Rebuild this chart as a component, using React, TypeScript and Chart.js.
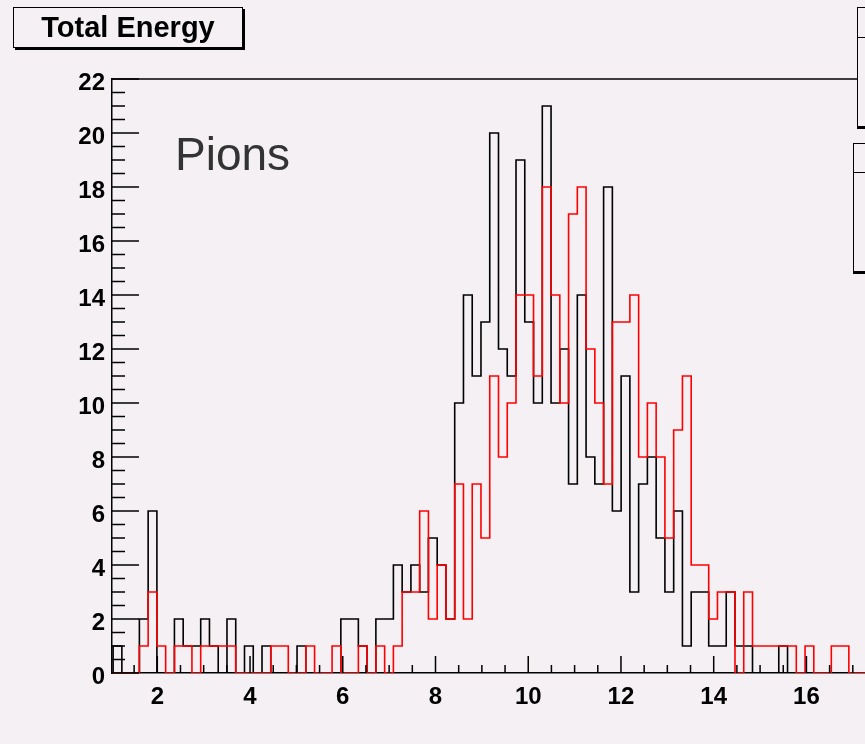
import React, { useEffect, useRef } from "react";
import { Chart, registerables } from "chart.js";

Chart.register(...registerables);

// ---- data ----
const TITLE = "Total Energy";
const LABEL = "Pions";
const BIN_START = 1.047;
const BIN_WIDTH = 0.1889;
const X_MIN = 1.023;
const X_MAX = 17.263;
const Y_MIN = 0;
const Y_MAX = 22;
const X_TICKS = [2, 4, 6, 8, 10, 12, 14, 16];
const Y_TICKS = [0, 2, 4, 6, 8, 10, 12, 14, 16, 18, 20, 22];

const BLACK_COUNTS = [
  1, 0, 0, 2, 6, 0, 0, 2, 1, 1, 2, 1, 0, 2, 0, 1, 0, 1, 0, 0, 0,
  1, 0, 0, 0, 0, 2, 2, 1, 0, 2, 2, 4, 3, 4, 3, 5, 4, 2, 10, 14,
  11, 13, 20, 12, 11, 19, 13, 10, 21, 10, 12, 7, 14, 8, 7, 18, 6, 11, 3, 7,
  8, 5, 3, 6, 1, 3, 3, 1, 1, 3, 1, 1, 0, 0, 0, 1, 0, 0, 0, 0,
  0, 0, 0, 0, 0,
];

const RED_COUNTS = [
  0, 0, 0, 1, 3, 1, 0, 1, 1, 0, 1, 1, 1, 1, 0, 0, 0, 0, 1, 1, 0,
  0, 1, 0, 0, 1, 0, 0, 1, 0, 1, 0, 1, 3, 3, 6, 2, 4, 2, 7, 2,
  7, 5, 11, 8, 10, 14, 14, 11, 18, 14, 10, 17, 18, 12, 10, 7, 13, 13, 14, 8,
  10, 8, 5, 9, 11, 4, 4, 2, 3, 3, 0, 3, 1, 1, 1, 1, 1, 0, 1, 0,
  0, 1, 1, 0, 0,
];

const BG = "rgb(244,240,244)";
const FONT = "'Liberation Sans', Arial, Helvetica, sans-serif";

function histPoints(counts: number[]) {
  const pts = [{ x: BIN_START, y: 0 }];
  counts.forEach((c, i) => pts.push({ x: BIN_START + i * BIN_WIDTH, y: c }));
  pts.push({ x: BIN_START + counts.length * BIN_WIDTH, y: 0 });
  return pts;
}

const frameTicks = {
  id: "frameTicks",
  afterDraw(chart: any) {
    const { ctx, chartArea } = chart;
    const xs = chart.scales.x;
    const ys = chart.scales.y;
    ctx.save();
    ctx.strokeStyle = "#000";
    ctx.lineWidth = 1.5;
    // top frame line
    ctx.beginPath();
    ctx.moveTo(chartArea.left, chartArea.top);
    ctx.lineTo(chartArea.right, chartArea.top);
    ctx.stroke();
    // y ticks (inside)
    ctx.beginPath();
    for (let v = Y_MIN; v <= Y_MAX + 1e-9; v += 0.5) {
      const y = ys.getPixelForValue(v);
      const major = Math.abs(v % 2) < 1e-9;
      ctx.moveTo(chartArea.left, y);
      ctx.lineTo(chartArea.left + (major ? 27 : 13), y);
    }
    // x ticks (inside)
    for (let v = 1.5; v <= X_MAX; v += 0.5) {
      const x = xs.getPixelForValue(v);
      const major = Math.abs(v % 2) < 1e-9;
      ctx.moveTo(x, chartArea.bottom);
      ctx.lineTo(x, chartArea.bottom - (major ? 17 : 8));
    }
    ctx.stroke();
    ctx.restore();
  },
};

function HistChart() {
  const ref = useRef<HTMLCanvasElement | null>(null);
  useEffect(() => {
    if (!ref.current) return;
    const chart = new Chart(ref.current, {
      type: "line",
      data: {
        datasets: [
          {
            label: "black",
            data: histPoints(BLACK_COUNTS),
            borderColor: "#000000",
            borderWidth: 1.6,
            stepped: true,
            pointRadius: 0,
            fill: false,
            order: 2,
          },
          {
            label: "red",
            data: histPoints(RED_COUNTS),
            borderColor: "#ff0000",
            borderWidth: 1.6,
            stepped: true,
            pointRadius: 0,
            fill: false,
            order: 1,
          },
        ],
      },
      options: {
        animation: false,
        responsive: false,
        devicePixelRatio: 1,
        layout: { padding: { top: 79, left: 0, right: 0, bottom: 0 } },
        plugins: {
          legend: { display: false },
          tooltip: { enabled: false },
          title: { display: false },
        },
        scales: {
          x: {
            type: "linear",
            min: X_MIN,
            max: X_MAX,
            afterBuildTicks: (s: any) => {
              s.ticks = X_TICKS.map((v) => ({ value: v }));
            },
            afterFit: (s: any) => {
              s.height = 71;
            },
            grid: { display: false, drawTicks: false },
            border: { display: true, color: "#000", width: 1.5 },
            ticks: {
              color: "#000",
              padding: 10,
              maxRotation: 0,
              autoSkip: false,
              font: { family: FONT, size: 24, weight: "bold" },
            },
          },
          y: {
            type: "linear",
            min: Y_MIN,
            max: Y_MAX,
            afterBuildTicks: (s: any) => {
              s.ticks = Y_TICKS.map((v) => ({ value: v }));
            },
            afterFit: (s: any) => {
              s.width = 112;
            },
            grid: { display: false, drawTicks: false },
            border: { display: true, color: "#000", width: 1.5 },
            ticks: {
              color: "#000",
              padding: 7,
              labelOffset: 4,
              autoSkip: false,
              font: { family: FONT, size: 24, weight: "bold" },
            },
          },
        },
      },
      plugins: [frameTicks],
    } as any);
    return () => chart.destroy();
  }, []);
  return <canvas ref={ref} width={865} height={744} style={{ display: "block" }} />;
}

export default function App() {
  return (
    <div
      style={{
        position: "fixed",
        left: 0,
        top: 0,
        width: 865,
        height: 744,
        overflow: "hidden",
        background: BG,
        fontFamily: FONT,
      }}
    >
      <HistChart />
      {/* title box */}
      <div
        style={{
          position: "absolute",
          left: 13,
          top: 7,
          width: 230,
          height: 41,
          boxSizing: "border-box",
          border: "1px solid #000",
          boxShadow: "2px 2px 0 #000",
          background: BG,
        }}
      />
      <div
        style={{
          position: "absolute",
          left: 13,
          top: 13,
          width: 230,
          textAlign: "center",
          fontSize: 29,
          lineHeight: "29px",
          fontWeight: "bold",
          color: "#000",
        }}
      >
        {TITLE}
      </div>
      {/* Pions label */}
      <div
        style={{
          position: "absolute",
          left: 175,
          top: 131,
          fontSize: 46,
          lineHeight: "46px",
          color: "#333",
        }}
      >
        {LABEL}
      </div>
      {/* cut-off stats boxes on the right */}
      <div
        style={{
          position: "absolute",
          left: 857,
          top: 7,
          width: 40,
          height: 120,
          boxSizing: "border-box",
          border: "1px solid #000",
          boxShadow: "0 2px 0 #000",
          background: BG,
        }}
      >
        <div style={{ position: "absolute", left: 0, right: 0, top: 29, borderTop: "1px solid #000" }} />
      </div>
      <div
        style={{
          position: "absolute",
          left: 853,
          top: 143,
          width: 40,
          height: 129,
          boxSizing: "border-box",
          border: "1px solid #000",
          boxShadow: "0 2px 0 #000",
          background: BG,
        }}
      >
        <div style={{ position: "absolute", left: 0, right: 0, top: 28, borderTop: "1px solid #000" }} />
      </div>
    </div>
  );
}
